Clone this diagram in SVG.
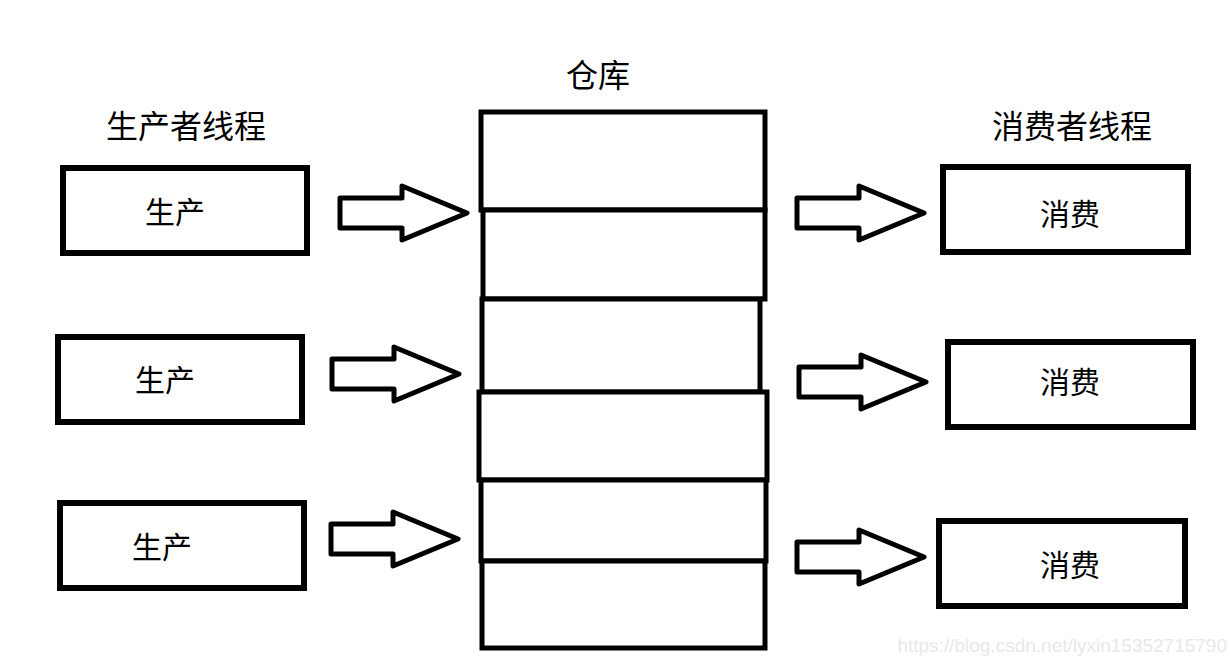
<svg xmlns="http://www.w3.org/2000/svg" xmlns:xlink="http://www.w3.org/1999/xlink" width="1230" height="657" viewBox="0 0 1230 657">
<style>
.box{fill:#fff;stroke:#000;stroke-width:6}
.cell{fill:#fff;stroke:#000;stroke-width:5}
.arr{fill:#fff;stroke:#000;stroke-width:5;stroke-linejoin:round}
.t{font-family:"Noto Sans CJK SC","Noto Sans CJK JP",sans-serif;font-size:30px;fill:#000;text-anchor:middle;dominant-baseline:central}
.h{font-family:"Noto Sans CJK SC","Noto Sans CJK JP",sans-serif;font-size:32px;fill:#000;text-anchor:middle;dominant-baseline:central}
.wm{font-family:"Liberation Sans",Arial,sans-serif;font-size:19px;fill:#e8e8e8;text-anchor:end}
</style>
<defs>
<path id="arrow" class="arr" d="M0,-15 H62 V-27 L127,0 L62,27 V15 H0 Z"/>
</defs>
<rect width="1230" height="657" fill="#fff"/>
<g id="labels">
<text class="h" x="186" y="124">生产者线程</text>
<text class="h" x="598" y="73">仓库</text>
<text class="h" x="1072" y="124">消费者线程</text>
</g>
<g id="warehouse">
<rect class="cell" x="481" y="112" width="284" height="98"/>
<rect class="cell" x="483" y="210" width="282" height="89"/>
<rect class="cell" x="482" y="299" width="278" height="93"/>
<rect class="cell" x="479" y="392" width="288" height="88"/>
<rect class="cell" x="481" y="480" width="285" height="81"/>
<rect class="cell" x="482" y="561" width="283" height="87"/>
</g>
<g id="producer1"><rect class="box" x="63" y="168" width="244" height="85"/><text class="t" x="175" y="210">生产</text></g>
<g id="producer2"><rect class="box" x="58" y="337" width="244" height="85"/><text class="t" x="165" y="378">生产</text></g>
<g id="producer3"><rect class="box" x="60" y="503" width="244" height="85"/><text class="t" x="162" y="545">生产</text></g>
<g id="consumer1"><rect class="box" x="943" y="167" width="245" height="85"/><text class="t" x="1070" y="212">消费</text></g>
<g id="consumer2"><rect class="box" x="948" y="342" width="245" height="85"/><text class="t" x="1070" y="380">消费</text></g>
<g id="consumer3"><rect class="box" x="939" y="521" width="246" height="85"/><text class="t" x="1070" y="563">消费</text></g>
<g id="connectors">
<use xlink:href="#arrow" transform="translate(340,213)"/>
<use xlink:href="#arrow" transform="translate(332,374)"/>
<use xlink:href="#arrow" transform="translate(331,539)"/>
<use xlink:href="#arrow" transform="translate(797,213)"/>
<use xlink:href="#arrow" transform="translate(799,382)"/>
<use xlink:href="#arrow" transform="translate(797,557)"/>
</g>
<text class="wm" x="1227" y="652">https://blog.csdn.net/lyxin15352715790</text>
</svg>
